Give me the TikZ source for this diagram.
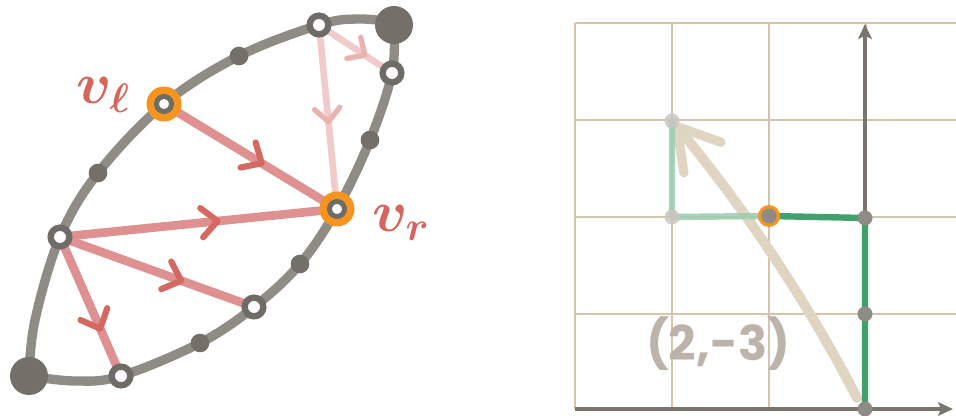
\RequirePackage{fix-cm}
\documentclass[tikz,border=0pt]{standalone}
\usepackage{fontspec}
\newfontfamily\popfont{Poppins}
\usetikzlibrary{arrows.meta,decorations.markings}
\definecolor{lensgray}{HTML}{8F8C86}
\definecolor{dotdark}{HTML}{746F69}
\definecolor{ringgray}{HTML}{6F6B66}
\definecolor{redline}{HTML}{DF9191}
\definecolor{redchev}{HTML}{D56962}
\definecolor{pinkline}{HTML}{F0CBCA}
\definecolor{pinkchev}{HTML}{EBB3B0}
\definecolor{vorange}{HTML}{F5951F}
\definecolor{labelred}{HTML}{D6655E}
\definecolor{gridtan}{HTML}{D4C5AC}
\definecolor{axisgray}{HTML}{79746E}
\definecolor{greendark}{HTML}{42A06C}
\definecolor{greenlight}{HTML}{9ACDB0}
\definecolor{tanarrow}{HTML}{E0D5C2}
\definecolor{textgray}{HTML}{BCB4AA}
\definecolor{gdot}{HTML}{8F8C87}
\definecolor{gdotlight}{HTML}{CAC6C1}
\begin{document}
\begin{tikzpicture}[x=0.75pt,y=-0.75pt,
  lens/.style={draw=lensgray, line width=7pt, line cap=round},
  rededge/.style={draw=redline, line width=6.5pt, line cap=round,
    postaction={decorate, decoration={markings, mark=at position #1 with {\arrow{Straight Barb[length=12pt,width=22pt,line width=4.6pt,round,color=redchev]}}}}},
  pinkedge/.style={draw=pinkline, line width=5pt, line cap=round,
    postaction={decorate, decoration={markings, mark=at position #1 with {\arrow{Straight Barb[length=10pt,width=19pt,line width=4pt,round,color=pinkchev]}}}}},
  darkdot/.style={circle, fill=dotdark, inner sep=0pt, minimum size=14pt},
  bigdot/.style={circle, fill=dotdark, inner sep=0pt, minimum size=28.5pt},
  hollow/.style={circle, fill=white, draw=ringgray, line width=4.8pt, inner sep=0pt, minimum size=14pt},
  vnode/.style={circle, fill=white, draw=ringgray, line width=3.75pt, inner sep=0pt, minimum size=11.25pt},
  label/.style={text=labelred, font=\fontsize{44}{50}\selectfont\boldmath},
  gridl/.style={draw=gridtan, line width=1.1pt},
  axis/.style={draw=axisgray, line width=2.3pt, -{Stealth[length=11pt,width=10pt,inset=2pt]}},
  gpath/.style={draw=greendark, line width=4.8pt, line cap=round, line join=round},
  gpathlight/.style={draw=greenlight, line width=4.8pt, line cap=round, line join=round, opacity=0.85},
  gdotst/.style={circle, fill=gdot, inner sep=0pt, minimum size=11.25pt},
  gdotlt/.style={circle, fill=gdotlight, inner sep=0pt, minimum size=11.25pt, opacity=0.85},
  tanarr/.style={draw=tanarrow, line width=7.5pt, line cap=round,
    -{Straight Barb[length=30pt,width=36pt,line width=7pt,round,color=tanarrow]}}
]
\useasboundingbox (0,0) rectangle (956,416);

% ---------- left figure ----------
\coordinate (BL) at (29,376);
\coordinate (TR) at (394,25);
\coordinate (top) at (319,25);
\coordinate (rt) at (392,73);
\coordinate (vl) at (164,104);
\coordinate (vr) at (337,209);
\coordinate (lf) at (60,237);
\coordinate (lm) at (254,307);
\coordinate (bt) at (121,376);

\draw[lens] plot[smooth, tension=0.6] coordinates {(29,376) (35,320) (60,237) (98,173) (164,104) (239,56) (319,25) (357,19) (394,22)};
\draw[lens] plot[smooth, tension=0.6] coordinates {(29,376) (75,381) (121,376) (200,343) (254,307) (300,264) (337,209) (370,140) (392,73) (394,25)};

\draw[pinkedge=0.66] (top) -- (rt);
\draw[pinkedge=0.54] (top) -- (vr);
\draw[rededge=0.58] (vl) -- (vr);
\draw[rededge=0.58] (lf) -- (vr);
\draw[rededge=0.64] (lf) -- (lm);
\draw[rededge=0.68] (lf) -- (bt);

\node[darkdot] (d1) at (239,56) {};
\node[darkdot] (d2) at (98,173) {};
\node[darkdot] (d3) at (370,140) {};
\node[darkdot] (d4) at (300,264) {};
\node[darkdot] (d5) at (200,343) {};
\node[bigdot] (nBL) at (BL) {};
\node[bigdot] (nTR) at (TR) {};
\node[hollow] (ntop) at (top) {};
\node[hollow] (nrt) at (rt) {};
\node[hollow] (nlf) at (lf) {};
\node[hollow] (nlm) at (lm) {};
\node[hollow] (nbt) at (bt) {};
\fill[vorange] (vl) circle (17.5);
\fill[vorange] (vr) circle (17.5);
\node[vnode] (nvl) at (vl) {};
\node[vnode] (nvr) at (vr) {};
\node[label, anchor=base west, inner sep=0pt] (lvl) at (76,104) {$v_\ell$};
\node[label, anchor=base west, inner sep=0pt] (lvr) at (372,232) {$v_r$};

% ---------- right figure ----------
\foreach \x in {575,672,769,866} \draw[gridl] (\x,23) -- (\x,409);
\foreach \y in {23,120,217,314} \draw[gridl] (575,\y) -- (956,\y);

\coordinate (ax0) at (575,409);
\coordinate (ax1) at (953,409);
\coordinate (O) at (865,409);
\coordinate (ay1) at (865,24);
\draw[axis] (ax0) -- (ax1);
\draw[axis] (O) -- (ay1);

\coordinate (g0) at (865,409);
\coordinate (g1) at (865,314);
\coordinate (g2) at (865,218);
\coordinate (g3) at (769,216);
\coordinate (g4) at (672,217);
\coordinate (g5) at (672,121);
\coordinate (ts) at (857,398);

\draw[tanarr] (ts) .. controls (806,299) and (744,208) .. (674,123);
\draw[gpathlight] (g3) -- (g4) -- (g5);
\draw[gpath] (g0) -- (g1) -- (g2) -- (g3);

\node[gdotst] (n0) at (g0) {};
\node[gdotst] (n1) at (g1) {};
\node[gdotst] (n2) at (g2) {};
\fill[vorange] (g3) circle (11);
\node[gdotst] (n3) at (g3) {};
\node[gdotlt] (n4) at (g4) {};
\node[gdotlt] (n5) at (g5) {};

\node[text=textgray, font=\popfont\bfseries\fontsize{36}{40}\selectfont] (lbl) at (718,344) {(2,-3)};
\end{tikzpicture}
\end{document}
